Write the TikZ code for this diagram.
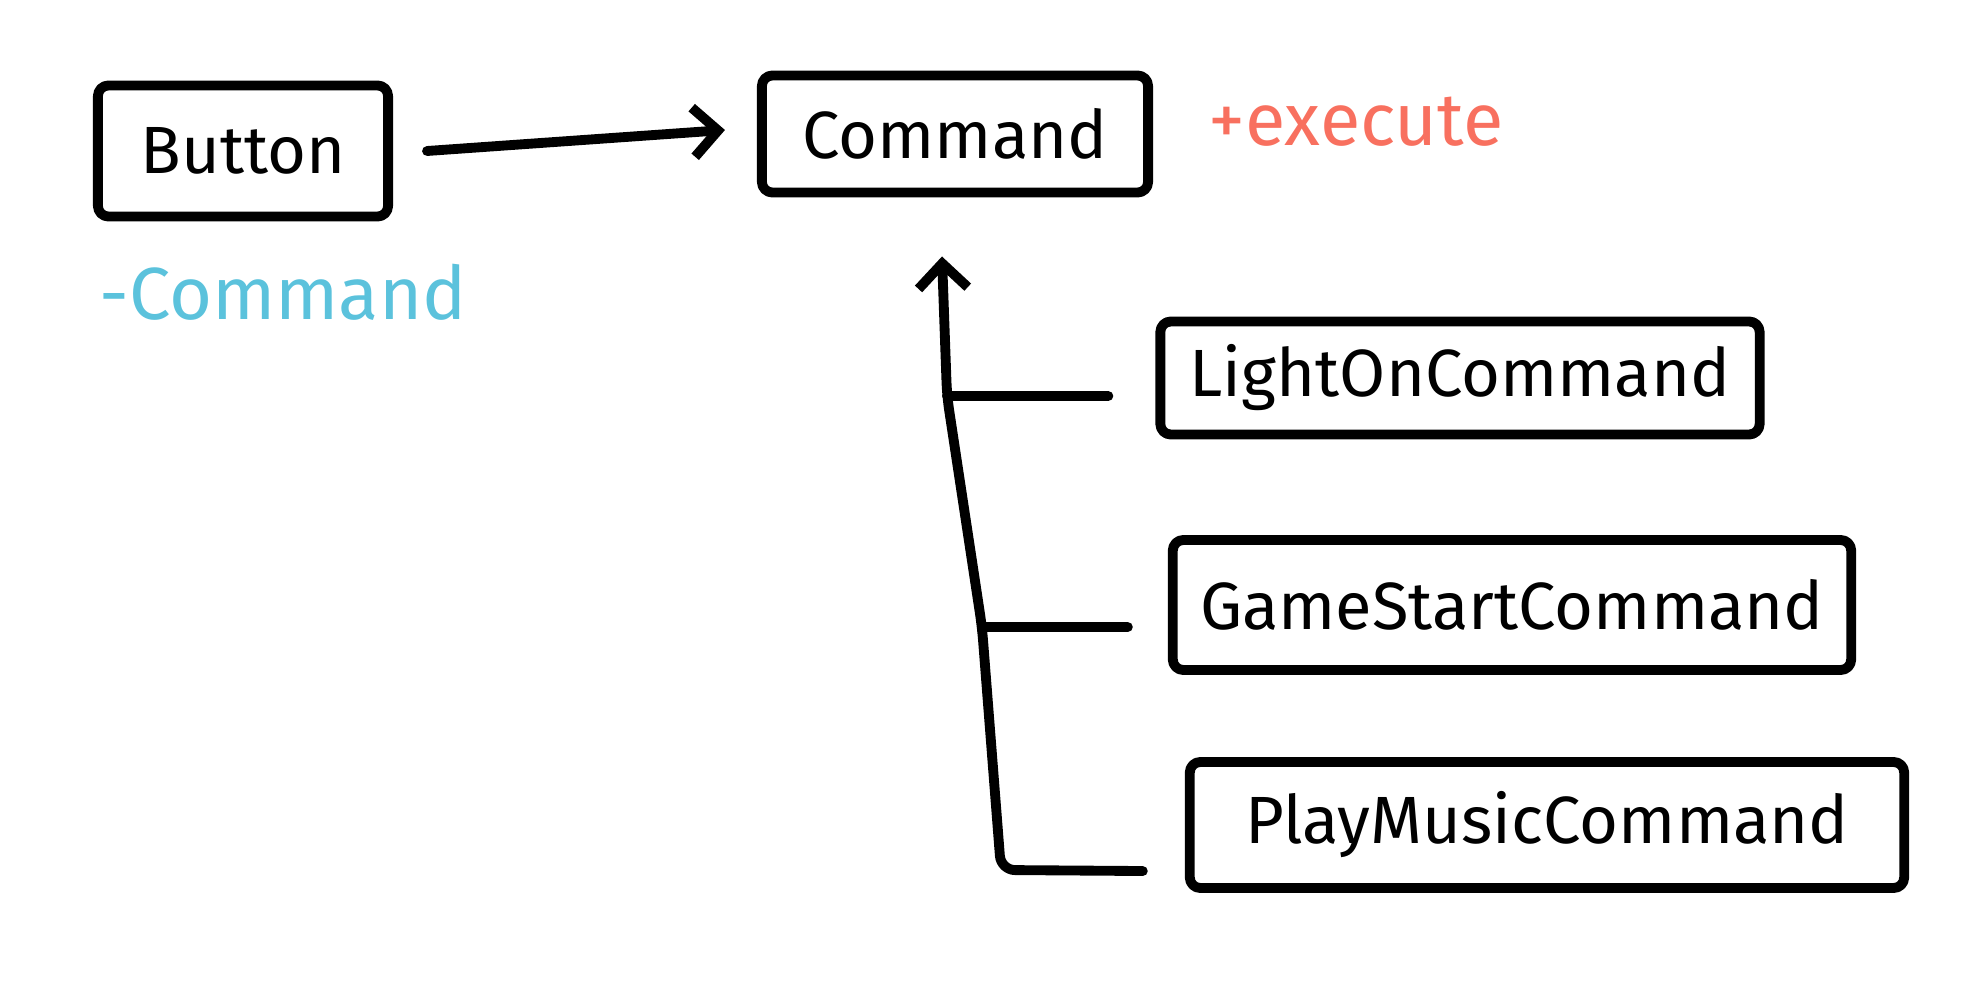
\documentclass[tikz,border=0pt]{standalone}
\usepackage{fontspec}
\setmainfont{Fira Sans}
\usetikzlibrary{arrows.meta}
\definecolor{execred}{HTML}{F8705F}
\definecolor{fieldcyan}{HTML}{5BC2DC}

\begin{document}
\begin{tikzpicture}[x=0.01cm,y=-0.01cm,line width=2.8pt,line cap=round,line join=round]
	 \tikzstyle{box}=[draw,rounded corners=3pt,inner sep=0pt,font=\fontsize{19}{23}\selectfont]
	 \tikzstyle{note}=[inner sep=0pt,font=\fontsize{21}{25}\selectfont]
	 \tikzstyle{arr}=[-{Straight Barb[length=7pt,width=14pt]}]
	 \useasboundingbox (0,0) rectangle (1974,1000);

		  \node[box,minimum width=2.9cm,minimum height=1.31cm]   (button)    at (243,151)  {Button};
		  \node[box,minimum width=3.86cm,minimum height=1.17cm]  (command)   at (955,134)  {Command};
		  \node[box,minimum width=5.99cm,minimum height=1.13cm]  (lighton)   at (1460,378) {LightOnCommand};
		  \node[box,minimum width=6.78cm,minimum height=1.30cm]  (gamestart) at (1512,605) {GameStartCommand};
		  \node[box,minimum width=7.14cm,minimum height=1.26cm]  (playmusic) at (1547,825) {PlayMusicCommand};

		  \node[note,text=execred]   (execute) at (1356,122) {+execute};
		  \node[note,text=fieldcyan] (field)   at (283,292)  {-Command};

		  % junctions on the trunk
		  \coordinate (j1) at (947,396);
		  \coordinate (j2) at (982,627);
		  \coordinate (corner) at (1001,870);

		  \draw[arr] ([xshift=0.34cm]button.east) -- ([xshift=-0.32cm,yshift=0.04cm]command.west);
		  \draw[arr,rounded corners=4pt] ([xshift=-0.42cm,yshift=-0.46cm]playmusic.west) -- (corner) -- (j2) -- (j1) -- ([xshift=-0.13cm,yshift=-0.59cm]command.south);
		  \draw (j1) -- ([xshift=-0.47cm,yshift=-0.18cm]lighton.west);
		  \draw (j2) -- ([xshift=-0.40cm,yshift=-0.22cm]gamestart.west);

\end{tikzpicture}
\end{document}
